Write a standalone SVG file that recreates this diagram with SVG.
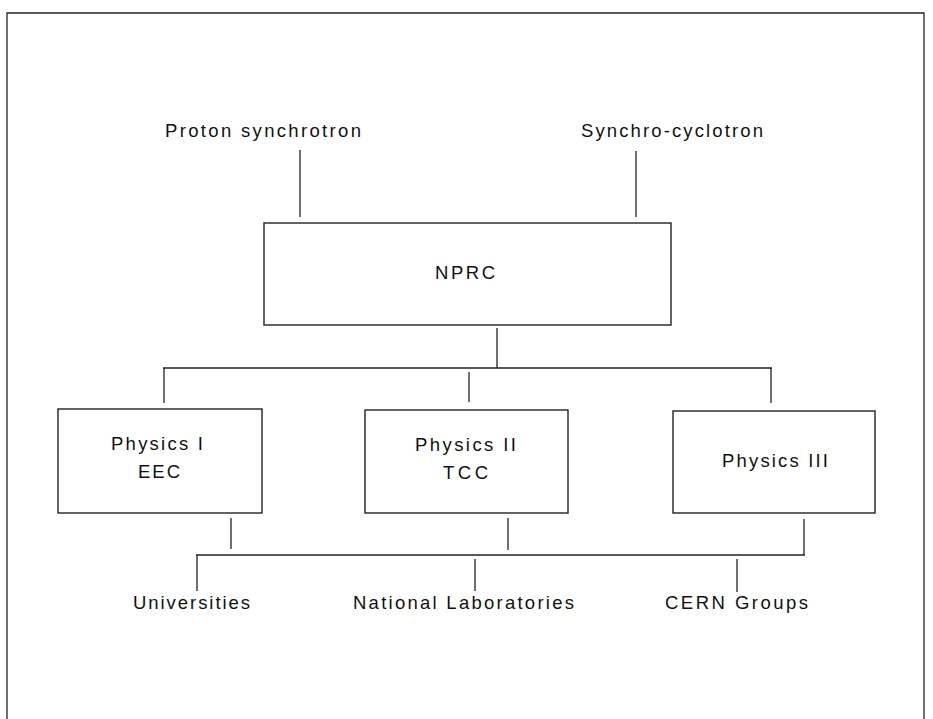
<svg xmlns="http://www.w3.org/2000/svg" width="933" height="719" viewBox="0 0 933 719">
<style>
.ln{stroke:#222;stroke-width:1.3;fill:none}
.bx{stroke:#222;stroke-width:1.4;fill:none}
.t{font-family:"Liberation Sans",Arial,sans-serif;font-size:18.5px;fill:#111}
</style>
<rect width="933" height="719" fill="#fff"/>
<path class="ln" d="M7,719 V13 H924 V719"/>
<g id="connectors">
<line class="ln" x1="300" y1="150" x2="300" y2="217"/>
<line class="ln" x1="636" y1="151" x2="636" y2="217"/>
<line class="ln" x1="497" y1="328" x2="497" y2="368"/>
<line class="ln" x1="163" y1="368" x2="772" y2="368"/>
<line class="ln" x1="164" y1="368" x2="164" y2="403"/>
<line class="ln" x1="469" y1="372" x2="469" y2="402"/>
<line class="ln" x1="771" y1="368" x2="771" y2="403"/>
<line class="ln" x1="231" y1="518" x2="231" y2="549"/>
<line class="ln" x1="508" y1="518" x2="508" y2="550"/>
<line class="ln" x1="804" y1="519" x2="804" y2="555"/>
<line class="ln" x1="196" y1="555" x2="805" y2="555"/>
<line class="ln" x1="197" y1="555" x2="197" y2="591"/>
<line class="ln" x1="475" y1="559" x2="475" y2="591"/>
<line class="ln" x1="737" y1="559" x2="737" y2="592"/>
</g>
<g id="proton">
<text class="t" x="165" y="137" textLength="196" lengthAdjust="spacing">Proton synchrotron</text>
</g>
<g id="synchro">
<text class="t" x="581" y="137" textLength="182" lengthAdjust="spacing">Synchro-cyclotron</text>
</g>
<g id="nprc">
<rect class="bx" x="264" y="223" width="407" height="102"/>
<text class="t" x="435" y="279" textLength="60" lengthAdjust="spacing">NPRC</text>
</g>
<g id="physics1">
<rect class="bx" x="58" y="409" width="204" height="104"/>
<text class="t" x="111" y="450" textLength="92" lengthAdjust="spacing">Physics I</text>
<text class="t" x="138" y="478" textLength="42" lengthAdjust="spacing">EEC</text>
</g>
<g id="physics2">
<rect class="bx" x="365" y="410" width="203" height="103"/>
<text class="t" x="415" y="451" textLength="101" lengthAdjust="spacing">Physics II</text>
<text class="t" x="443" y="479" textLength="45" lengthAdjust="spacing">TCC</text>
</g>
<g id="physics3">
<rect class="bx" x="673" y="411" width="202" height="102"/>
<text class="t" x="722" y="467" textLength="106" lengthAdjust="spacing">Physics III</text>
</g>
<g id="universities">
<text class="t" x="133" y="609" textLength="117" lengthAdjust="spacing">Universities</text>
</g>
<g id="natlabs">
<text class="t" x="353" y="609" textLength="221" lengthAdjust="spacing">National Laboratories</text>
</g>
<g id="cern">
<text class="t" x="665" y="609" textLength="143" lengthAdjust="spacing">CERN Groups</text>
</g>
</svg>
